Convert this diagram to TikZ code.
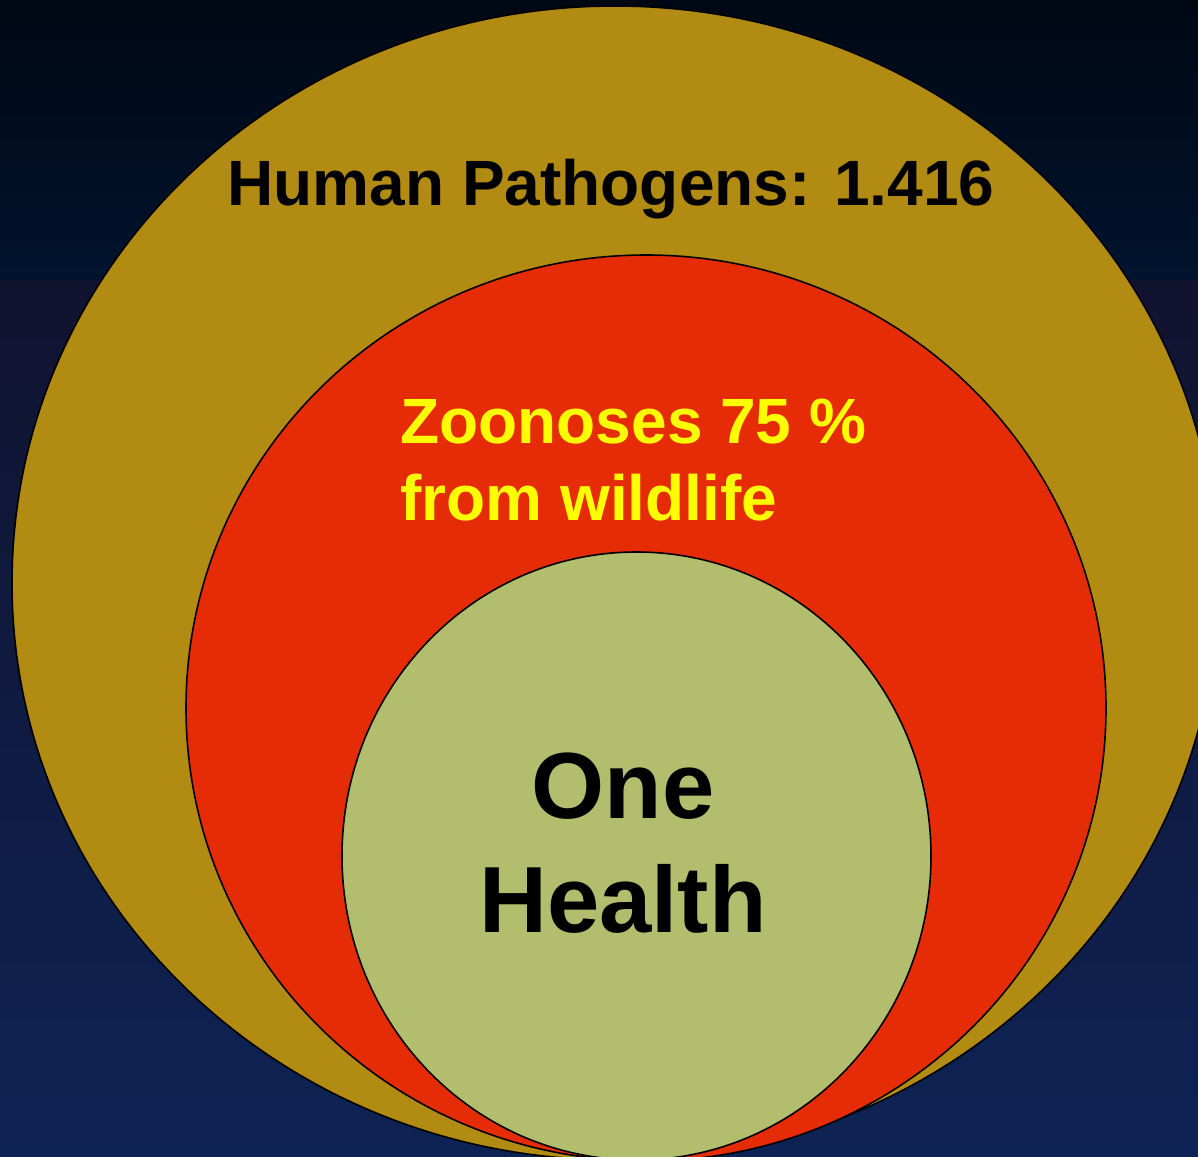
\documentclass[tikz,border=0pt]{standalone}
\usepackage{fontspec}
\setmainfont{Liberation Sans}

\definecolor{bgtop}{HTML}{000814}
\definecolor{bgmid}{HTML}{01132E}
\definecolor{bgband}{HTML}{11132F}
\definecolor{bgbot}{HTML}{0E2355}
\definecolor{pathgold}{HTML}{B28B12}
\definecolor{zoored}{HTML}{E62B07}
\definecolor{onegreen}{HTML}{B2BD6D}
\definecolor{zooyellow}{HTML}{FFFF00}

\begin{document}
\begin{tikzpicture}[
    x=0.5pt, y=-0.5pt,
    % Estilo para los circulos anidados
    ring/.style={draw=black, line width=0.8pt},
    % Estilos para los textos
    bigtext/.style={font=\fontsize{32}{38}\selectfont\bfseries, inner sep=0pt},
    hugetext/.style={font=\fontsize{47}{57}\selectfont\bfseries, inner sep=0pt}
]
    \useasboundingbox (0,0) rectangle (1198,1156);
    \clip (0,0) rectangle (1198,1156);

    % ==========================================
    % FONDO
    % ==========================================
    \shade[top color=bgtop, bottom color=bgmid] (0,0) rectangle (1198,280);
    \shade[top color=bgband, bottom color=bgbot] (0,280) rectangle (1198,1156);

    % ==========================================
    % CIRCULOS
    % ==========================================
    \draw[ring, fill=pathgold] (615,583) ellipse [x radius=603, y radius=577];
    \draw[ring, fill=zoored]   (646,708) ellipse [x radius=460, y radius=453];
    \draw[ring, fill=onegreen] (636.5,856) ellipse [x radius=294.5, y radius=304];

    % ==========================================
    % TEXTOS
    % ==========================================
    \node[bigtext, anchor=base] (human) at (611,205) {Human Pathogens: 1.416};

    \node[bigtext, text=zooyellow, anchor=base west] (zoo) at (400,443) {Zoonoses 75 \%};
    \node[bigtext, text=zooyellow, anchor=base west] (wild) at (400,520) {from wildlife};

    \node[hugetext, anchor=base] (one) at (623,818) {One};
    \node[hugetext, anchor=base] (health) at (623,932) {Health};

\end{tikzpicture}
\end{document}
